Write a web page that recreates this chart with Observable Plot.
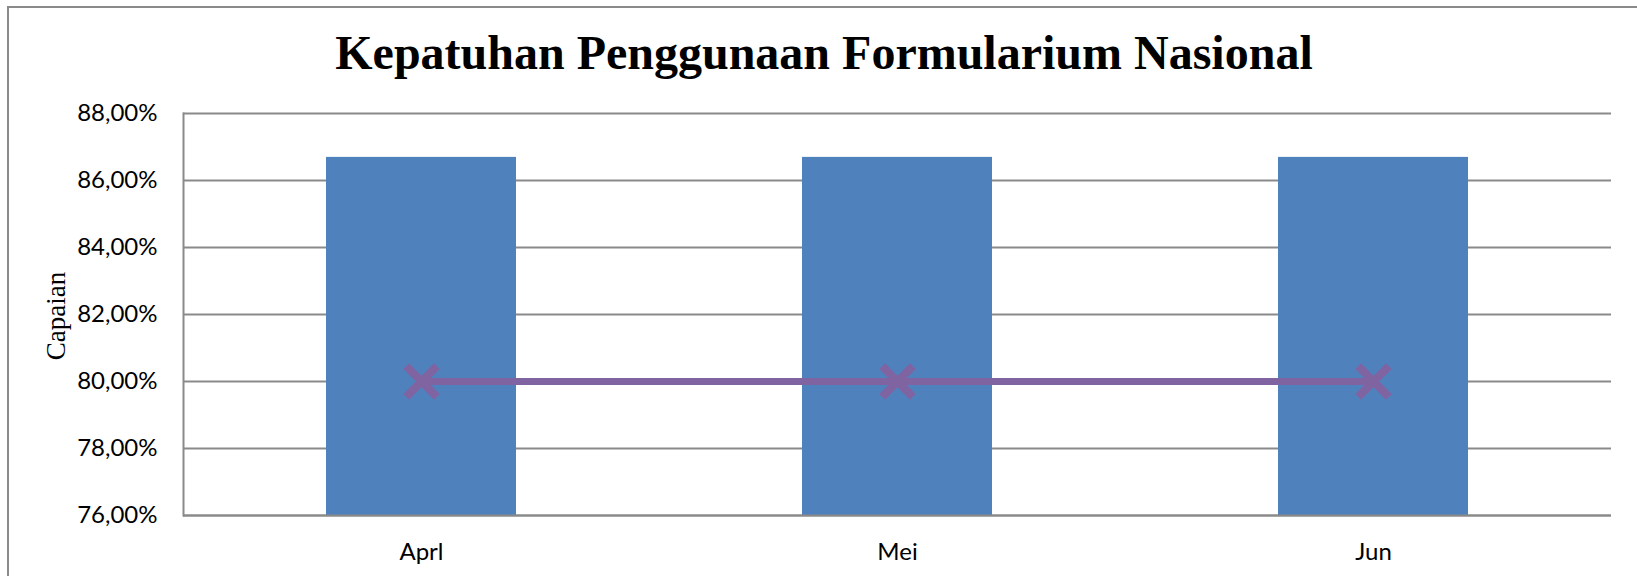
<!DOCTYPE html>
<html>
<head>
<meta charset="utf-8">
<script src="https://cdn.jsdelivr.net/npm/d3@7"></script>
<script src="https://cdn.jsdelivr.net/npm/@observablehq/plot@0.6"></script>
<style>
  html, body { margin: 0; padding: 0; background: #fff; }
  #wrap { position: relative; width: 1637px; height: 576px; overflow: hidden; background: #fff; }
  #frame { position: absolute; left: 7px; top: 6px; width: 1700px; height: 700px;
           border-left: 2px solid #8a8a8a; border-top: 2px solid #8a8a8a; box-sizing: border-box; }
  #title { position: absolute; left: 0; top: 24px; width: 1648px; text-align: center;
           font-family: "Liberation Serif", "Times New Roman", serif; font-weight: bold;
           font-size: 48px; line-height: 58px; color: #000; }
  #ylabel { position: absolute; left: 56px; top: 316px; transform: translate(-50%, -50%) rotate(-90deg);
           font-family: "Liberation Serif", "Times New Roman", serif; font-size: 27px;
           line-height: 30px; color: #000; white-space: nowrap; }
  #chart { position: absolute; left: 0; top: 0; }
</style>
</head>
<body>
<div id="wrap">
  <div id="frame"></div>
  <div id="chart"></div>
  <div id="title">Kepatuhan Penggunaan Formularium Nasional</div>
  <div id="ylabel"></div>
</div>
<script>
const months = ["Aprl", "Mei", "Jun"];
const capaian = [86.69, 86.69, 86.69];
const target = [80, 80, 80];
const yTicks = [76, 78, 80, 82, 84, 86, 88];
const yLabel = "Capaian";

document.getElementById("ylabel").textContent = yLabel;

const bars = months.map((m, i) => ({month: m, value: capaian[i]}));
const line = months.map((m, i) => ({month: m, value: target[i]}));
const fmt = d => d.toFixed(2).replace(".", ",") + "%";
const tickFont = "Lato, 'Open Sans', sans-serif";

const chart = Plot.plot({
  width: 1637,
  height: 576,
  marginTop: 113,
  marginBottom: 61,
  marginLeft: 183,
  marginRight: 26,
  style: {background: "transparent", overflow: "visible"},
  x: {domain: months, paddingInner: 0.6, paddingOuter: 0.3, axis: null},
  y: {domain: [76, 88], axis: null},
  marks: [
    Plot.gridY(yTicks, {stroke: "#8a8a8a", strokeOpacity: 1, strokeWidth: 2}),
    Plot.frame({anchor: "left", stroke: "#8a8a8a", strokeWidth: 2}),
    Plot.barY(bars, {x: "month", y1: 76, y2: "value", fill: "#4F81BD"}),
    Plot.ruleY([76], {stroke: "#8a8a8a", strokeWidth: 2}),
    Plot.axisY(yTicks, {tickSize: 0, tickPadding: 26, tickFormat: fmt, fontSize: 24,
      fontFamily: tickFont, fill: "#000", label: null}),
    Plot.axisX(months, {tickSize: 0, tickPadding: 27, fontSize: 24,
      fontFamily: tickFont, fill: "#000", label: null}),
    Plot.line(line, {x: "month", y: "value", stroke: "#8064A2", strokeWidth: 7}),
    Plot.dot(line, {x: "month", y: "value", symbol: "times", r: 14, stroke: "#8064A2", strokeWidth: 8})
  ]
});
document.getElementById("chart").appendChild(chart);
</script>
</body>
</html>
